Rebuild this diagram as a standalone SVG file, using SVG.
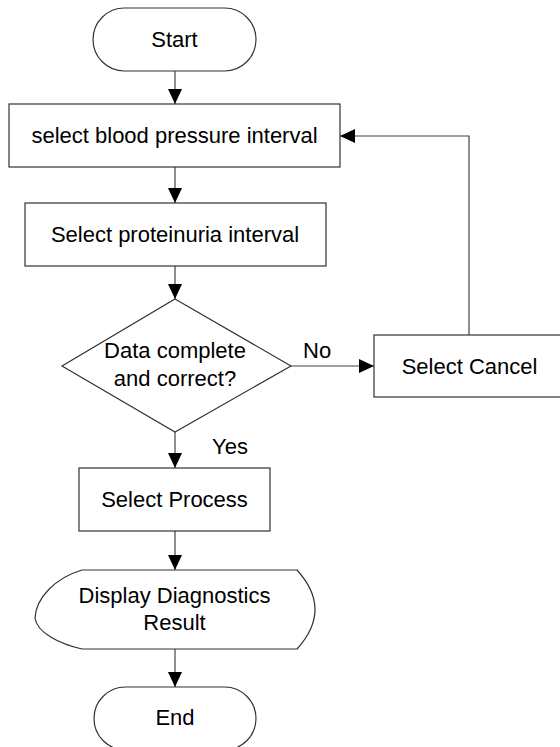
<svg xmlns="http://www.w3.org/2000/svg" width="560" height="747" viewBox="0 0 560 747">
<style>
.s{fill:#fff;stroke:#333;stroke-width:1.2}
.t{font-family:"Liberation Sans",Arial,sans-serif;font-size:22px;fill:#000;text-anchor:middle}
.l{font-family:"Liberation Sans",Arial,sans-serif;font-size:22px;fill:#000}
.c{fill:none;stroke:#444;stroke-width:1.2}
</style>
<defs>
<marker id="ah" markerUnits="userSpaceOnUse" markerWidth="16" markerHeight="15" refX="15" refY="7" orient="auto">
<path d="M0,0 L15,7 L0,14 z" fill="#000"/>
</marker>
</defs>
<g id="connectors">
<line class="c" x1="175" y1="71" x2="175" y2="104" marker-end="url(#ah)"/>
<line class="c" x1="175" y1="167" x2="175" y2="203" marker-end="url(#ah)"/>
<line class="c" x1="175" y1="266" x2="175" y2="299" marker-end="url(#ah)"/>
<line class="c" x1="291" y1="366" x2="374" y2="366" marker-end="url(#ah)"/>
<polyline class="c" points="469,335 469,136 340,136" marker-end="url(#ah)"/>
<line class="c" x1="175" y1="432" x2="175" y2="468" marker-end="url(#ah)"/>
<line class="c" x1="175" y1="531" x2="175" y2="570" marker-end="url(#ah)"/>
<line class="c" x1="175" y1="649" x2="175" y2="687" marker-end="url(#ah)"/>
<text class="l" x="303" y="358">No</text>
<text class="l" x="212" y="454">Yes</text>
</g>
<g id="start">
<rect class="s" x="93" y="8" width="163" height="63" rx="31.5" ry="31.5"/>
<text class="t" x="174.5" y="47">Start</text>
</g>
<g id="bp">
<rect class="s" x="9" y="104" width="331" height="63"/>
<text class="t" x="174.5" y="143">select blood pressure interval</text>
</g>
<g id="prot">
<rect class="s" x="25" y="203" width="301" height="63"/>
<text class="t" x="175" y="242">Select proteinuria interval</text>
</g>
<g id="check">
<polygon class="s" points="175,299 291,366 175,432 62,366"/>
<text class="t" x="175" y="358">Data complete</text>
<text class="t" x="175" y="386">and correct?</text>
</g>
<g id="cancel">
<rect class="s" x="374" y="335" width="192" height="62"/>
<text class="t" x="469.5" y="374">Select Cancel</text>
</g>
<g id="process">
<rect class="s" x="79" y="468" width="191" height="63"/>
<text class="t" x="174.5" y="507">Select Process</text>
</g>
<g id="display">
<path class="s" d="M82,570 L297,570 Q333,609.5 297,649 L82,649 C60,644 37,633 35,618 C36,598 55,578 82,570 z"/>
<text class="t" x="174.5" y="603">Display Diagnostics</text>
<text class="t" x="174.5" y="630">Result</text>
</g>
<g id="end">
<rect class="s" x="94" y="687" width="162" height="63" rx="31.5" ry="31.5"/>
<text class="t" x="175" y="725">End</text>
</g>
</svg>
